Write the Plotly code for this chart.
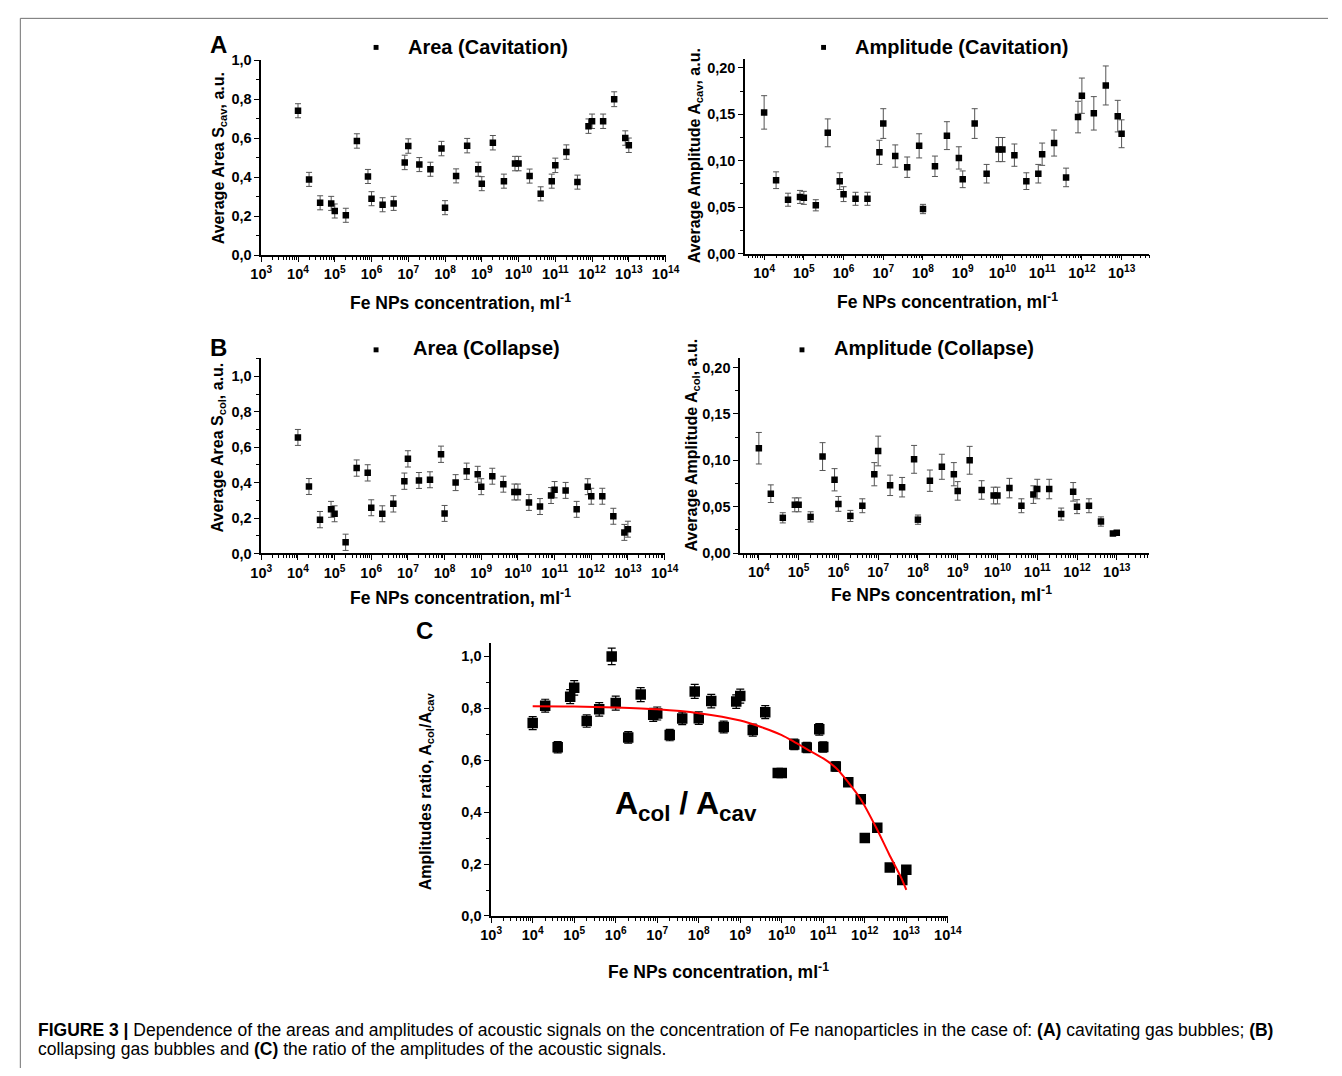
import plotly.graph_objects as go

W, H = 1342, 1076
FONT = "Liberation Sans"

# ---------------- data ----------------
CONC = [1e4, 2e4, 4e4, 8e4, 1e5, 2e5, 4e5, 8e5, 1e6, 2e6, 4e6, 8e6,
        1e7, 2e7, 4e7, 8e7, 1e8, 2e8, 4e8, 8e8, 1e9, 2e9, 4e9, 8e9,
        1e10, 2e10, 4e10, 8e10, 1e11, 2e11, 4e11, 8e11, 1e12, 2e12, 4e12, 8e12, 1e13]

AREA_CAV = [0.741, 0.389, 0.269, 0.266, 0.227, 0.205, 0.586, 0.404, 0.290, 0.259, 0.266, 0.476,
            0.560, 0.465, 0.441, 0.547, 0.244, 0.407, 0.562, 0.441, 0.367, 0.577, 0.380, 0.470,
            0.470, 0.406, 0.315, 0.380, 0.461, 0.529, 0.375, 0.662, 0.687, 0.687, 0.800, 0.601, 0.564]
AREA_CAV_ERR = [0.036, 0.036, 0.036, 0.036, 0.036, 0.036, 0.037, 0.036, 0.036, 0.036, 0.036, 0.037,
                0.037, 0.036, 0.036, 0.037, 0.036, 0.036, 0.037, 0.036, 0.036, 0.037, 0.036, 0.037,
                0.037, 0.036, 0.036, 0.036, 0.037, 0.037, 0.036, 0.037, 0.037, 0.037, 0.038, 0.037, 0.037]

AMP_CAV = [0.152, 0.079, 0.058, 0.061, 0.060, 0.052, 0.130, 0.078, 0.064, 0.059, 0.059, 0.109,
           0.140, 0.105, 0.093, 0.116, 0.048, 0.094, 0.127, 0.103, 0.080, 0.140, 0.086, 0.112,
           0.112, 0.106, 0.078, 0.086, 0.107, 0.119, 0.082, 0.147, 0.170, 0.151, 0.181, 0.148, 0.129]
AMP_CAV_ERR = [0.018, 0.009, 0.007, 0.007, 0.007, 0.006, 0.015, 0.009, 0.008, 0.007, 0.007, 0.013,
               0.016, 0.012, 0.011, 0.013, 0.005, 0.011, 0.015, 0.012, 0.009, 0.016, 0.010, 0.013,
               0.013, 0.012, 0.009, 0.010, 0.012, 0.014, 0.010, 0.017, 0.019, 0.018, 0.021, 0.017, 0.015]

AREA_COL = [0.655, 0.378, 0.191, 0.249, 0.224, 0.063, 0.482, 0.455, 0.258, 0.224, 0.280, 0.408,
            0.534, 0.412, 0.416, 0.560, 0.226, 0.400, 0.464, 0.447, 0.377, 0.436, 0.391, 0.347,
            0.347, 0.288, 0.265, 0.327, 0.360, 0.356, 0.249, 0.377, 0.323, 0.323, 0.210, 0.119, 0.137]
AREA_COL_ERR = [0.045, 0.045, 0.046, 0.045, 0.045, 0.046, 0.046, 0.046, 0.045, 0.045, 0.046, 0.046,
                0.046, 0.045, 0.045, 0.046, 0.045, 0.045, 0.046, 0.045, 0.045, 0.045, 0.045, 0.045,
                0.045, 0.045, 0.045, 0.045, 0.046, 0.045, 0.045, 0.045, 0.045, 0.045, 0.045, 0.045, 0.045]

AMP_COL = [0.113, 0.064, 0.038, 0.052, 0.052, 0.039, 0.104, 0.079, 0.053, 0.040, 0.051, 0.085,
           0.110, 0.073, 0.071, 0.101, 0.036, 0.078, 0.093, 0.085, 0.067, 0.100, 0.068, 0.062,
           0.062, 0.070, 0.051, 0.063, 0.069, 0.069, 0.042, 0.066, 0.050, 0.051, 0.034, 0.021, 0.022]
AMP_COL_ERR = [0.017, 0.0095, 0.0055, 0.0075, 0.0075, 0.0055, 0.015, 0.012, 0.008, 0.006, 0.0075, 0.0125,
               0.016, 0.011, 0.0105, 0.015, 0.005, 0.0115, 0.0135, 0.0125, 0.010, 0.015, 0.010, 0.009,
               0.009, 0.0105, 0.0075, 0.0095, 0.0105, 0.0105, 0.0065, 0.010, 0.0075, 0.0075, 0.005, 0.002, 0.002]

RATIO = [0.743, 0.810, 0.650, 0.845, 0.879, 0.751, 0.796, 1.000, 0.820, 0.688, 0.853, 0.775,
         0.780, 0.697, 0.761, 0.865, 0.762, 0.828, 0.728, 0.826, 0.847, 0.716, 0.785, 0.551,
         0.551, 0.661, 0.649, 0.719, 0.651, 0.576, 0.515, 0.450, 0.300, 0.340, 0.187, 0.139, 0.178]
RATIO_ERR = [0.025, 0.025, 0.022, 0.027, 0.028, 0.024, 0.026, 0.032, 0.027, 0.022, 0.027, 0.025,
             0.025, 0.022, 0.024, 0.027, 0.024, 0.026, 0.023, 0.026, 0.027, 0.023, 0.025, 0.012,
             0.012, 0.020, 0.020, 0.022, 0.020, 0.018, 0.016, 0.014, 0.008, 0.010, 0.006, 0.005, 0.006]

FIT_X = [1e4, 1e5, 1e6, 1e7, 1e8, 1e9, 3.16e9, 1e10, 2e10, 4e10, 1e11, 2e11, 4e11, 8e11,
         1.9e12, 3.8e12, 7.6e12, 1e13]
FIT_Y = [0.808, 0.807, 0.803, 0.796, 0.781, 0.753, 0.728, 0.697, 0.671, 0.643, 0.607, 0.571, 0.515, 0.450,
         0.339, 0.240, 0.146, 0.101]

X_DECADES = list(range(3, 15))
Y_TICKS_AREA = [0.0, 0.2, 0.4, 0.6, 0.8, 1.0]
Y_TEXT_AREA = ["0,0", "0,2", "0,4", "0,6", "0,8", "1,0"]
Y_TICKS_AMP = [0.0, 0.05, 0.10, 0.15, 0.20]
Y_TEXT_AMP = ["0,00", "0,05", "0,10", "0,15", "0,20"]

# ---------------- helpers ----------------
def px(x):
    return x / W

def py(y):
    return 1 - y / H

minor_x = [m * 10 ** k for k in range(3, 14) for m in range(2, 10)]
TICKFONT = dict(family=FONT, size=14.5, color="black", weight="bold")

def xaxis(dom, rng):
    return dict(type="log", domain=[px(dom[0]), px(dom[1])], range=rng,
                tickvals=[10 ** k for k in X_DECADES],
                ticktext=["10<sup>%d</sup>" % k for k in X_DECADES],
                tickfont=TICKFONT,
                ticks="outside", ticklen=5, tickwidth=1.3, tickcolor="black",
                minor=dict(tickvals=minor_x, ticks="outside", ticklen=3, tickwidth=1, tickcolor="black"),
                showline=True, linecolor="black", linewidth=1.5, showgrid=False, zeroline=False,
                fixedrange=True)

def yaxis(dom, rng, vals, texts, minor_dtick):
    return dict(domain=[py(dom[1]), py(dom[0])], range=rng,
                tickvals=vals, ticktext=texts,
                tickfont=TICKFONT,
                ticks="outside", ticklen=5, tickwidth=1.3, tickcolor="black",
                minor=dict(dtick=minor_dtick, tick0=0, ticks="outside", ticklen=3, tickwidth=1,
                           tickcolor="black"),
                showline=True, linecolor="black", linewidth=1.5, showgrid=False, zeroline=False,
                fixedrange=True)

fig = go.Figure()

def add_points(xax, yax, y, err, size, ecolor, ewidth, ethick):
    fig.add_trace(go.Scatter(
        x=CONC, y=y, mode="markers", xaxis=xax, yaxis=yax,
        marker=dict(symbol="square", size=size, color="black"),
        error_y=dict(type="data", array=err, visible=True, color=ecolor,
                     width=ewidth, thickness=ethick),
        showlegend=False, hoverinfo="x+y"))

add_points("x", "y", AREA_CAV, AREA_CAV_ERR, 6.5, "#555555", 3, 1)
add_points("x2", "y2", AMP_CAV, AMP_CAV_ERR, 6.5, "#555555", 3, 1)
add_points("x3", "y3", AREA_COL, AREA_COL_ERR, 6.5, "#555555", 3, 1)
add_points("x4", "y4", AMP_COL, AMP_COL_ERR, 6.5, "#555555", 3, 1)
add_points("x5", "y5", RATIO, RATIO_ERR, 10.5, "black", 4, 1.2)

fig.add_trace(go.Scatter(x=FIT_X, y=FIT_Y, mode="lines", xaxis="x5", yaxis="y5",
                         line=dict(color="#ff0000", width=2, shape="spline", smoothing=0.8),
                         showlegend=False, hoverinfo="skip"))

fig.update_layout(
    width=W, height=H, margin=dict(l=0, r=0, t=0, b=0), autosize=False,
    paper_bgcolor="white", plot_bgcolor="rgba(0,0,0,0)",
    font=dict(family=FONT, color="black"),
    xaxis=xaxis((255, 667), [3, 14]),
    yaxis=yaxis((53, 251), [0, 1.0], Y_TICKS_AREA, Y_TEXT_AREA, 0.1),
    xaxis2=xaxis((748, 1160), [3.52, 13.7]),
    yaxis2=yaxis((51.3, 249.3), [0, 0.21], Y_TICKS_AMP, Y_TEXT_AMP, 0.025),
    xaxis3=xaxis((255, 666), [3, 14]),
    yaxis3=yaxis((355, 553.7), [0, 1.105], Y_TICKS_AREA, Y_TEXT_AREA, 0.1),
    xaxis4=xaxis((743, 1160), [3.53, 13.82]),
    yaxis4=yaxis((355.5, 553.3), [0, 0.21], Y_TICKS_AMP, Y_TEXT_AMP, 0.025),
    xaxis5=xaxis((489.3, 954.6), [3, 14]),
    yaxis5=yaxis((645, 921.7), [0, 1.05], Y_TICKS_AREA, Y_TEXT_AREA, 0.1),
)
for i in range(1, 6):
    key = "yaxis" if i == 1 else "yaxis%d" % i
    fig.layout[key].anchor = "x" if i == 1 else "x%d" % i
    keyx = "xaxis" if i == 1 else "xaxis%d" % i
    fig.layout[keyx].anchor = "y" if i == 1 else "y%d" % i

ann = []

def text(x, y, s, size, bold=True, xanchor="center", yanchor="middle", angle=0):
    ann.append(dict(x=px(x), y=py(y), xref="paper", yref="paper", text=s, showarrow=False,
                    xanchor=xanchor, yanchor=yanchor, textangle=angle,
                    font=dict(family=FONT, size=size, color="black",
                              weight="bold" if bold else "normal")))

# panel letters
text(211, 37, "A", 24)
text(211, 345, "B", 24)
text(421, 632, "C", 24)

# panel titles
text(403, 40, "Area (Cavitation)", 20, xanchor="left")
text(858, 40, "Amplitude (Cavitation)", 20, xanchor="left")
text(408, 345, "Area (Collapse)", 20, xanchor="left")
text(837, 345, "Amplitude (Collapse)", 20, xanchor="left")

# x titles
xt = "Fe NPs concentration, ml<sup>-1</sup>"
text(458, 298, xt, 17.5)
text(954, 297, xt, 17.5)
text(458, 598, xt, 17.5)
text(948, 595, xt, 17.5)
text(721, 978, xt, 17.5)

# y titles
text(212.5, 153, "Average Area S<sub>cav</sub>, a.u.", 16, angle=-90)
text(697.5, 150, "Average Amplitude A<sub>cav</sub>, a.u.", 16, angle=-90)
text(211, 446, "Average Area S<sub>col</sub>, a.u.", 16, angle=-90)
text(694, 444, "Average Amplitude A<sub>col</sub>, a.u.", 16, angle=-90)
text(423, 795, "Amplitudes ratio, A<sub>col</sub>/A<sub>cav</sub>", 16, angle=-90)

# big label in C
text(688, 810, "A<sub>col</sub> / A<sub>cav</sub>", 32, bold=True)

# caption
text(25, 1037,
     "<b>FIGURE 3 |</b> Dependence of the areas and amplitudes of acoustic signals on the concentration "
     "of Fe nanoparticles in the case of: <b>(A)</b> cavitating gas bubbles; <b>(B)</b>",
     17.5, bold=False, xanchor="left", yanchor="middle")
text(25, 1057,
     "collapsing gas bubbles and <b>(C)</b> the ratio of the amplitudes of the acoustic signals.",
     17.5, bold=False, xanchor="left", yanchor="middle")

fig.update_layout(annotations=ann)

shapes = []
# legend-like squares in titles
for (cx, cy) in [(372, 40), (828, 40), (372, 347), (806, 347)]:
    shapes.append(dict(type="rect", xref="paper", yref="paper",
                       x0=px(cx - 2.5), x1=px(cx + 2.5), y0=py(cy + 2.5), y1=py(cy - 2.5),
                       fillcolor="black", line=dict(width=0)))
# page frame (top and left)
shapes.append(dict(type="line", xref="paper", yref="paper", x0=px(9.5), x1=1, y0=py(10.5), y1=py(10.5),
                   line=dict(color="#707070", width=1)))
shapes.append(dict(type="line", xref="paper", yref="paper", x0=px(9.5), x1=px(9.5), y0=py(10.5), y1=0,
                   line=dict(color="#707070", width=1)))
fig.update_layout(shapes=shapes)

fig.write_html("out.html", config={"displayModeBar": False},
               post_script="document.body.style.margin='0';document.body.style.padding='0';"
                           "document.documentElement.style.overflow='hidden';")
